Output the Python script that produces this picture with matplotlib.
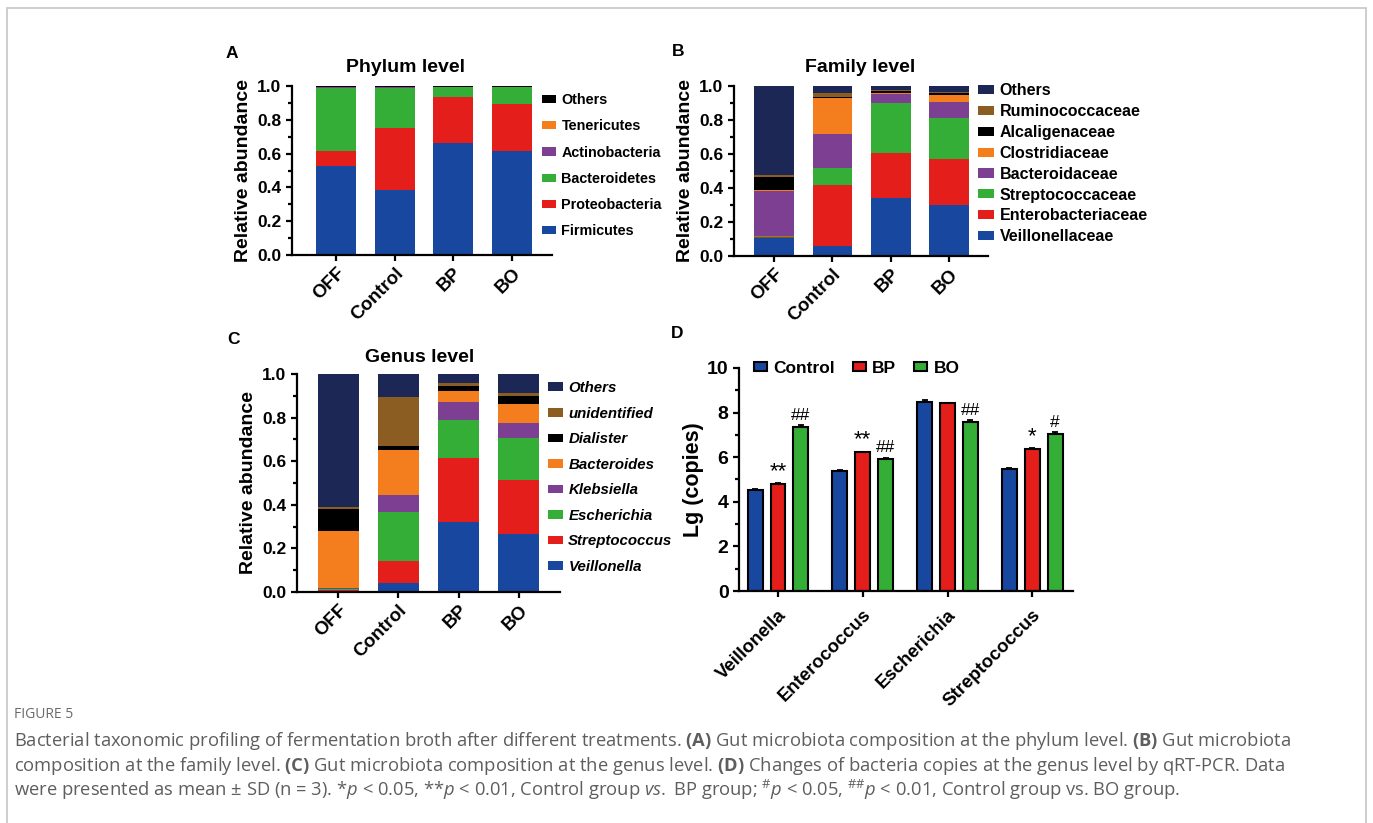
import numpy as np
import matplotlib
matplotlib.use("Agg")
import matplotlib.pyplot as plt
from matplotlib.patches import Rectangle
from matplotlib.ticker import MultipleLocator

plt.rcParams['font.family'] = 'Liberation Sans'
plt.rcParams['font.weight'] = 'bold'
plt.rcParams['axes.labelweight'] = 'bold'
plt.rcParams['mathtext.fontset'] = 'custom'
plt.rcParams['mathtext.rm'] = 'Open Sans:regular'
plt.rcParams['mathtext.it'] = 'Open Sans:italic:regular'
plt.rcParams['mathtext.bf'] = 'Open Sans:bold'

# ---- data ----
groups = ['OFF', 'Control', 'BP', 'BO']

# panel A, phylum level (bottom to top)
phylum_names = ['Firmicutes', 'Proteobacteria', 'Bacteroidetes', 'Actinobacteria', 'Tenericutes', 'Others']
firmicutes = [0.525, 0.385, 0.662, 0.613]
proteobacteria = [0.088, 0.367, 0.273, 0.279]
bacteroidetes = [0.377, 0.238, 0.058, 0.100]
actinobacteria = [0.004, 0.006, 0.003, 0.004]
tenericutes = [0.002, 0.001, 0.001, 0.001]
others_phylum = [0.004, 0.003, 0.003, 0.003]

# panel B, family level
family_names = ['Veillonellaceae', 'Enterobacteriaceae', 'Streptococcaceae', 'Bacteroidaceae',
                'Clostridiaceae', 'Alcaligenaceae', 'Ruminococcaceae', 'Others']
veillonellaceae = [0.106, 0.060, 0.342, 0.302]
enterobacteriaceae = [0.006, 0.360, 0.262, 0.267]
streptococcaceae = [0.007, 0.098, 0.296, 0.243]
bacteroidaceae = [0.265, 0.202, 0.052, 0.092]
clostridiaceae = [0.004, 0.207, 0.009, 0.043]
alcaligenaceae = [0.077, 0.008, 0.008, 0.011]
ruminococcaceae = [0.014, 0.026, 0.006, 0.008]
others_family = [0.521, 0.039, 0.025, 0.034]

# panel C, genus level
genus_names = ['Veillonella', 'Streptococcus', 'Escherichia', 'Klebsiella',
               'Bacteroides', 'Dialister', 'unidentified', 'Others']
veillonella = [0.004, 0.040, 0.319, 0.268]
streptococcus = [0.006, 0.100, 0.296, 0.246]
escherichia = [0.006, 0.227, 0.175, 0.191]
klebsiella = [0.002, 0.078, 0.080, 0.070]
bacteroides = [0.263, 0.208, 0.053, 0.088]
dialister = [0.099, 0.016, 0.023, 0.034]
unidentified = [0.010, 0.224, 0.012, 0.014]
others_genus = [0.610, 0.107, 0.042, 0.089]

# panel D, qRT-PCR
genera_d = ['Veillonella', 'Enterococcus', 'Escherichia', 'Streptococcus']
lg_control = [4.53, 5.39, 8.47, 5.47]
lg_bp = [4.80, 6.22, 8.42, 6.37]
lg_bo = [7.37, 5.92, 7.60, 7.05]
sd_control = [0.04, 0.05, 0.08, 0.04]
sd_bp = [0.04, 0.03, 0.03, 0.04]
sd_bo = [0.06, 0.05, 0.06, 0.07]
sig_bp = ['**', '**', '', '*']
sig_bo = ['##', '##', '##', '#']

BLUE = '#17479e'
RED = '#e41e1b'
GREEN = '#35ae37'
PURPLE = '#7c3f92'
ORANGE = '#f47e1e'
BLACK = '#000000'
BROWN = '#8c5d22'
NAVY = '#1c2756'

W, H = 1373, 823
fig = plt.figure(figsize=(W / 100, H / 100), dpi=100)


def px_axes(x0, y0, x1, y1):
    return fig.add_axes([x0 / W, 1 - y1 / H, (x1 - x0) / W, (y1 - y0) / H])


def style_axes(ax, ytick_size, xtick_size, xpad=3):
    for s in ['top', 'right']:
        ax.spines[s].set_visible(False)
    for s in ['left', 'bottom']:
        ax.spines[s].set_linewidth(1.6)
    ax.tick_params(axis='both', which='major', length=4, width=1.6, labelsize=ytick_size)
    ax.tick_params(axis='y', which='minor', length=3, width=1.6)
    ax.tick_params(axis='x', labelsize=xtick_size, pad=xpad)


def stacked(ax, series, names, colors, xlim, title, title_xy, legend_xy, leg_font, leg_space, italic=False):
    x = np.arange(len(groups))
    bottom = np.zeros(len(groups))
    handles = []
    for vals, name, c in zip(series, names, colors):
        b = ax.bar(x, vals, 0.68, bottom=bottom, color=c, label=name, edgecolor='none')
        bottom += np.array(vals)
        handles.append(b)
    ax.set_xlim(*xlim)
    ax.set_ylim(0, 1.0)
    ax.yaxis.set_major_locator(MultipleLocator(0.2))
    ax.yaxis.set_minor_locator(MultipleLocator(0.1))
    ax.yaxis.set_major_formatter(matplotlib.ticker.FormatStrFormatter('%.1f'))
    ax.set_xticks(x)
    ax.set_xticklabels(groups, rotation=45, ha='right', rotation_mode='anchor')
    ax.set_ylabel('Relative abundance', fontsize=14, labelpad=4)
    style_axes(ax, 12.5, 13.5)
    fig.text(title_xy[0] / W, 1 - title_xy[1] / H, title, fontsize=14, ha='center', va='center')
    leg = ax.legend(handles[::-1], names[::-1], loc='upper left',
                    bbox_to_anchor=(legend_xy[0] / W, 1 - legend_xy[1] / H),
                    bbox_transform=fig.transFigure, frameon=False, borderpad=0, borderaxespad=0,
                    handlelength=1.0, handleheight=0.5, handletextpad=0.35,
                    labelspacing=leg_space, prop={'size': leg_font, 'weight': 'bold',
                                                   'style': 'italic' if italic else 'normal'})
    return leg


# A
axA = px_axes(292, 86, 552, 255)
stacked(axA, [firmicutes, proteobacteria, bacteroidetes, actinobacteria, tenericutes, others_phylum],
        phylum_names, [BLUE, RED, GREEN, PURPLE, ORANGE, BLACK], (-0.75, 3.68),
        'Phylum level', (406, 67), (542, 93), 10.4, 0.85)

# B
axB = px_axes(734, 86, 988, 256)
stacked(axB, [veillonellaceae, enterobacteriaceae, streptococcaceae, bacteroidaceae, clostridiaceae,
              alcaligenaceae, ruminococcaceae, others_family],
        family_names, [BLUE, RED, GREEN, PURPLE, ORANGE, BLACK, BROWN, NAVY], (-0.69, 3.67),
        'Family level', (860, 67), (978, 83), 11.5, 0.37)

# C
axC = px_axes(297, 374, 560, 592)
stacked(axC, [veillonella, streptococcus, escherichia, klebsiella, bacteroides, dialister,
              unidentified, others_genus],
        genus_names, [BLUE, RED, GREEN, PURPLE, ORANGE, BLACK, BROWN, NAVY], (-0.68, 3.68),
        'Genus level', (420, 357), (548, 381), 10.8, 0.77, italic=True)

# D
axD = px_axes(739, 368, 1073, 591)
xd = np.arange(len(genera_d))
off = 0.27
bw = 0.175
zeros = np.zeros(len(genera_d))
ekw = {'elinewidth': 1.3, 'capthick': 1.3}
hc = axD.bar(xd - off, lg_control, bw, color=BLUE, edgecolor='black', linewidth=1.5, label='Control',
             yerr=[zeros, sd_control], capsize=2.5, error_kw=ekw)
hb = axD.bar(xd, lg_bp, bw, color=RED, edgecolor='black', linewidth=1.5, label='BP',
             yerr=[zeros, sd_bp], capsize=2.5, error_kw=ekw)
ho = axD.bar(xd + off, lg_bo, bw, color=GREEN, edgecolor='black', linewidth=1.5, label='BO',
             yerr=[zeros, sd_bo], capsize=2.5, error_kw=ekw)
for i in range(len(genera_d)):
    if sig_bp[i]:
        axD.text(xd[i], lg_bp[i] + sd_bp[i] + 0.05, sig_bp[i], ha='center', va='bottom',
                 fontsize=16, fontweight='normal')
    if sig_bo[i]:
        axD.text(xd[i] + off, lg_bo[i] + sd_bo[i] + 0.12, sig_bo[i], ha='center', va='bottom',
                 fontsize=12.5, fontweight='normal')
axD.set_xlim(-0.46, 3.48)
axD.set_ylim(0, 10)
axD.yaxis.set_major_locator(MultipleLocator(2))
axD.yaxis.set_minor_locator(MultipleLocator(1))
axD.set_xticks(xd)
axD.set_xticklabels(genera_d, rotation=45, ha='right', rotation_mode='anchor')
axD.set_ylabel('Lg (copies)', fontsize=15.5, labelpad=2)
style_axes(axD, 14, 13.4, xpad=7)
axD.legend(handles=[hc, hb, ho], loc='upper left', ncol=3,
           bbox_to_anchor=(754 / W, 1 - 361 / H), bbox_transform=fig.transFigure,
           frameon=False, borderpad=0, borderaxespad=0, handlelength=0.75, handleheight=0.4,
           handletextpad=0.35, columnspacing=1.05, prop={'size': 12.5, 'weight': 'bold'})

# panel letters
for letter, (lx, ly) in zip('ABCD', [(232, 53), (678, 52), (233, 340), (677, 333)]):
    fig.text(lx / W, 1 - ly / H, letter, fontsize=12.5, ha='center', va='center')

# frame and caption
fig.patches.append(Rectangle((7 / W, -0.02), (1366 - 7) / W, 1.02 - 8 / H, transform=fig.transFigure,
                             fill=False, edgecolor='#c6c6c6', linewidth=1.2))
cap = dict(fontsize=13.2, family='Open Sans', fontweight='normal', color='#5e5e5e', va='center')
fig.text(14 / W, 1 - 714 / H, 'FIGURE 5', fontsize=10, family='Open Sans', fontweight='normal',
         color='#6a6a6a', va='center')
fig.text(14 / W, 1 - 741 / H,
         r'Bacterial taxonomic profiling of fermentation broth after different treatments. $\mathbf{(A)}$ '
         r'Gut microbiota composition at the phylum level. $\mathbf{(B)}$ Gut microbiota', **cap)
fig.text(14 / W, 1 - 766 / H,
         r'composition at the family level. $\mathbf{(C)}$ Gut microbiota composition at the genus level. '
         r'$\mathbf{(D)}$ Changes of bacteria copies at the genus level by qRT-PCR. Data', **cap)
fig.text(14 / W, 1 - 790 / H,
         r'were presented as mean ± SD (n = 3). *$\mathit{p}$ < 0.05, **$\mathit{p}$ < 0.01, Control group '
         r'$\mathit{vs.}$ BP group; ${}^{\#}\mathit{p}$ < 0.05, ${}^{\#\#}\mathit{p}$ < 0.01, '
         r'Control group vs. BO group.', **cap)

fig.savefig('out.png', dpi=100)
